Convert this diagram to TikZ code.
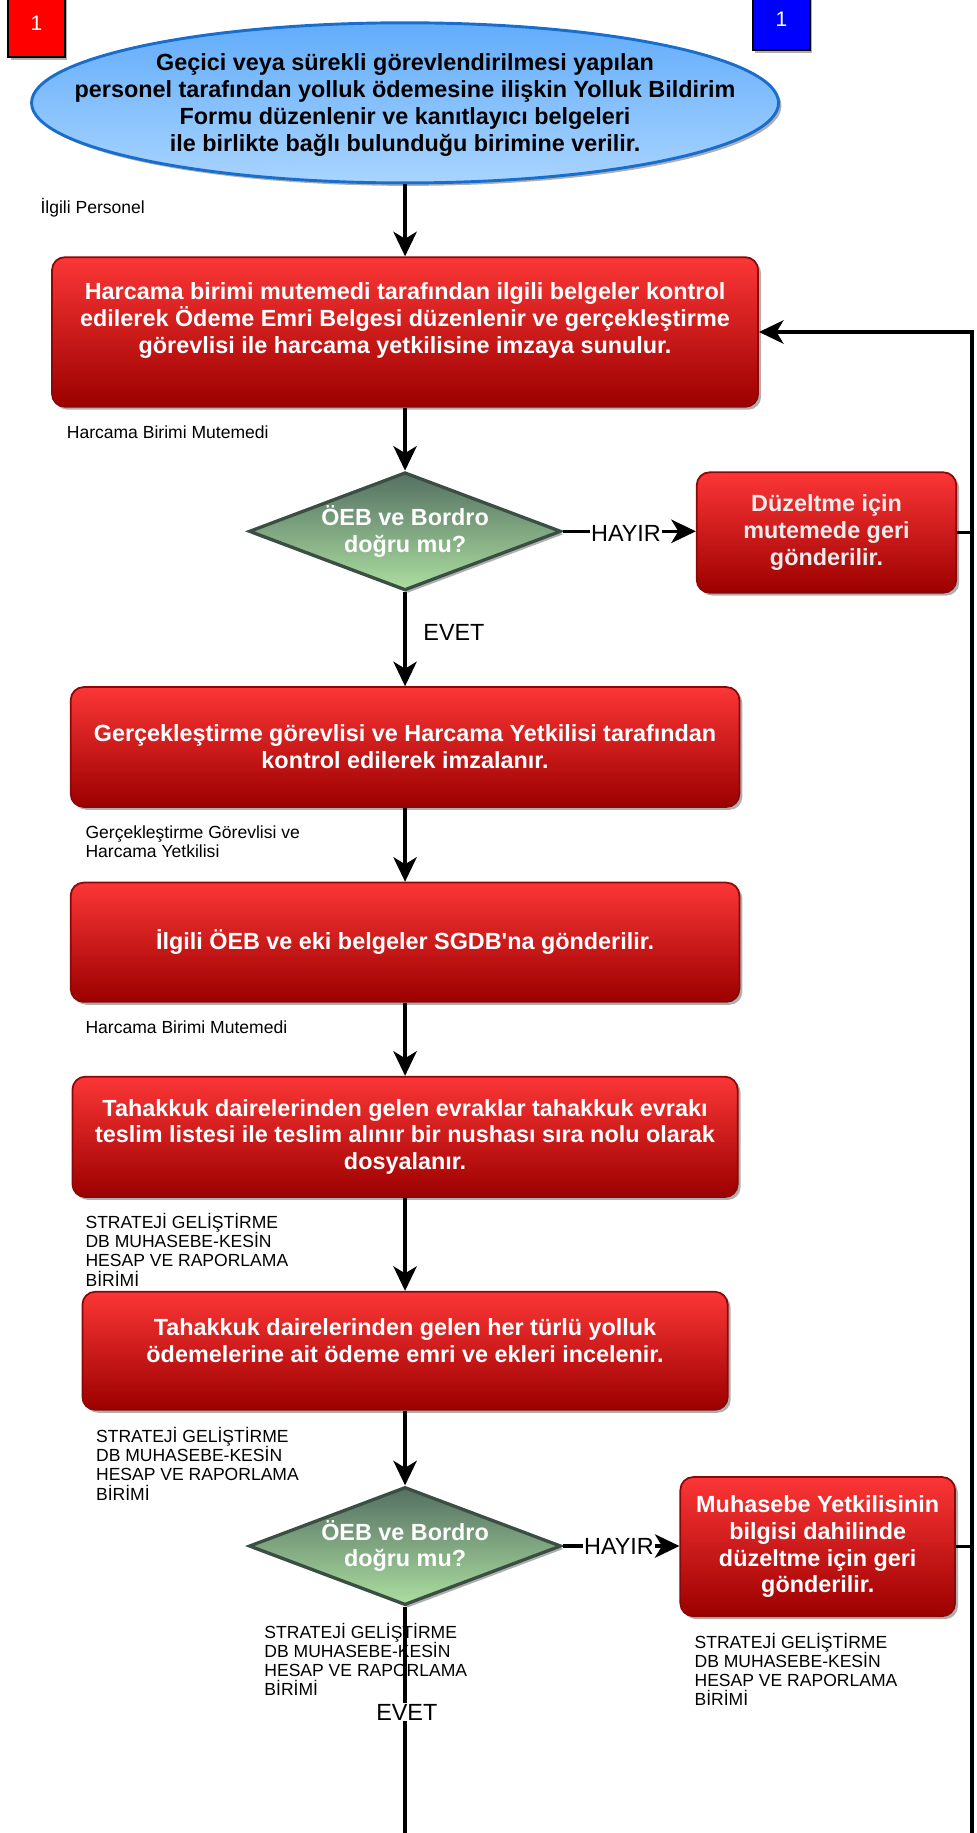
\documentclass[tikz,border=0pt]{standalone}
\usepackage{fontspec}
\setmainfont{Liberation Sans}
\usetikzlibrary{shapes.geometric,arrows.meta,shadows}
\definecolor{redtop}{RGB}{252,54,54}
\definecolor{redbot}{RGB}{156,0,0}
\definecolor{redline}{RGB}{140,8,8}
\definecolor{elltop}{RGB}{98,172,250}
\definecolor{ellbot}{RGB}{168,212,255}
\definecolor{ellline}{RGB}{25,110,205}
\definecolor{diatop}{RGB}{84,112,98}
\definecolor{diabot}{RGB}{172,222,160}
\definecolor{dialine}{RGB}{58,78,68}
\definecolor{shad}{RGB}{175,175,175}
\definecolor{paletxt}{RGB}{236,236,236}
\begin{document}
\begin{tikzpicture}[x=1pt,y=-1pt,
  myshadow/.style={drop shadow={shadow xshift=2.5pt,shadow yshift=-2.5pt,fill=shad,opacity=1}},
  redbox/.style={rectangle,rounded corners=11pt,draw=redline,line width=1.5pt,
    top color=redtop,bottom color=redbot,myshadow},
  boxtxt/.style={text=white,font=\bfseries\fontsize{20}{23}\selectfont,align=center,inner sep=0pt},
  ellshape/.style={ellipse,draw=ellline,line width=2.5pt,top color=elltop,bottom color=ellbot,
    myshadow,inner sep=0pt,minimum width=639pt,minimum height=137pt},
  elltxt/.style={text=black,font=\bfseries\fontsize{20}{23}\selectfont,align=center,inner sep=0pt},
  dia/.style={diamond,aspect=2.6,draw=dialine,line width=2.8pt,top color=diatop,bottom color=diabot,
    myshadow,minimum width=267pt,minimum height=101pt,inner sep=0pt,
    text=white,font=\bfseries\fontsize{20}{23}\selectfont,align=center},
  lbl/.style={font=\fontsize{15}{16.5}\selectfont,align=left,anchor=west,inner sep=0pt},
  yn/.style={font=\fontsize{20}{22}\selectfont,fill=white,inner sep=1pt},
  sq/.style={rectangle,draw=black,line width=2pt,text=white,font=\fontsize{18}{20}\selectfont,
    drop shadow={shadow xshift=2pt,shadow yshift=-2pt,fill=shad,opacity=1}},
  arr/.style={draw=black,line width=2.9pt,-{Stealth[length=21pt,width=20pt,inset=6pt]}},
  conn/.style={draw=black,line width=2.9pt}
]
\useasboundingbox (0,0) rectangle (835,1568);

\node[sq,fill=red,minimum width=48.5pt,minimum height=59pt] (sqa) at (31.25,19.5) {1};
\node[sq,fill=blue,minimum width=49pt,minimum height=53pt] (sqb) at (668.5,16.5) {1};

\node[ellshape] (ell) at (346.5,88) {};
\node[elltxt] (ellt) at (346.5,90) {Geçici veya sürekli görevlendirilmesi yapılan\\personel tarafından yolluk ödemesine ilişkin Yolluk Bildirim\\Formu düzenlenir ve kanıtlayıcı belgeleri\\ile birlikte bağlı bulunduğu birimine verilir.};

\node[lbl] (l1) at (34.5,178) {İlgili Personel};

\node[redbox,minimum width=604pt,minimum height=128pt] (b1) at (346.5,284) {};
\node[boxtxt] (b1t) at (346.5,274) {Harcama birimi mutemedi tarafından ilgili belgeler kontrol\\edilerek Ödeme Emri Belgesi düzenlenir ve gerçekleştirme\\görevlisi ile harcama yetkilisine imzaya sunulur.};

\node[lbl] (l2) at (57,369.6) {Harcama Birimi Mutemedi};

\node[dia] (d1) at (346.5,454.5) {ÖEB ve Bordro\\doğru mu?};

\node[redbox,boxtxt,text=paletxt,minimum width=222pt,minimum height=103pt] (b2) at (707,455.5) {Düzeltme için\\mutemede geri\\gönderilir.};

\node[redbox,boxtxt,minimum width=572pt,minimum height=102.5pt] (b3) at (346.5,639) {Gerçekleştirme görevlisi ve Harcama Yetkilisi tarafından\\kontrol edilerek imzalanır.};

\node[lbl] (l3) at (73,720) {Gerçekleştirme Görevlisi ve\\Harcama Yetkilisi};

\node[redbox,boxtxt,minimum width=572pt,minimum height=102pt] (b4) at (346.5,806) {İlgili ÖEB ve eki belgeler SGDB\textquotesingle na gönderilir.};

\node[lbl] (l4) at (73,878.5) {Harcama Birimi Mutemedi};

\node[redbox,boxtxt,minimum width=569pt,minimum height=103pt] (b5) at (346.5,972.5) {Tahakkuk dairelerinden gelen evraklar tahakkuk evrakı\\teslim listesi ile teslim alınır bir nushası sıra nolu olarak\\dosyalanır.};

\node[lbl] (l5) at (73,1069) {STRATEJİ GELİŞTİRME\\DB MUHASEBE-KESİN\\HESAP VE RAPORLAMA\\BİRİMİ};

\node[redbox,minimum width=552pt,minimum height=101pt] (b6) at (346.5,1155.5) {};
\node[boxtxt] (b6t) at (346.5,1146.5) {Tahakkuk dairelerinden gelen her türlü yolluk\\ödemelerine ait ödeme emri ve ekleri incelenir.};

\node[lbl] (l6) at (82,1252) {STRATEJİ GELİŞTİRME\\DB MUHASEBE-KESİN\\HESAP VE RAPORLAMA\\BİRİMİ};

\node[dia] (d2) at (346.5,1322.5) {ÖEB ve Bordro\\doğru mu?};

\node[redbox,boxtxt,minimum width=235pt,minimum height=119pt] (b7) at (699.5,1323) {Muhasebe Yetkilisinin\\bilgisi dahilinde\\düzeltme için geri\\gönderilir.};

\node[lbl] (l7) at (226,1419.5) {STRATEJİ GELİŞTİRME\\DB MUHASEBE-KESİN\\HESAP VE RAPORLAMA\\BİRİMİ};
\node[lbl] (l8) at (594,1428) {STRATEJİ GELİŞTİRME\\DB MUHASEBE-KESİN\\HESAP VE RAPORLAMA\\BİRİMİ};

\coordinate (rt) at (831.5,284);
\coordinate (rb) at (831.5,1568);
\coordinate (mb) at (346.5,1568);

% connectors
\draw[arr] (ell.south) -- (b1.north);
\draw[arr] (b1.south) -- (d1.north);
\draw[arr] (d1.south) -- (b3.north);
\draw[arr] (b3.south) -- (b4.north);
\draw[arr] (b4.south) -- (b5.north);
\draw[arr] (b5.south) -- (b6.north);
\draw[arr] (b6.south) -- (d2.north);
\draw[conn] (d2.south) -- (mb);
\draw[arr] (d1.east) -- (d1.east -| b2.west);
\draw[arr] (d2.east) -- (d2.east -| b7.west);
\draw[conn] (b2.east) -- (b2.east -| rt);
\draw[conn] (b7.east) -- (b7.east -| rt);
\draw[arr] (rb) -- (rt) -- (b1.east);

% branch labels
\node[yn] (h1) at (535.5,456) {HAYIR};
\node[yn,fill=none,anchor=west] (e1) at (361,541) {EVET};
\node[yn] (h2) at (529.5,1323) {HAYIR};
\node[yn] (e2) at (348,1464.5) {EVET};
\end{tikzpicture}
\end{document}
